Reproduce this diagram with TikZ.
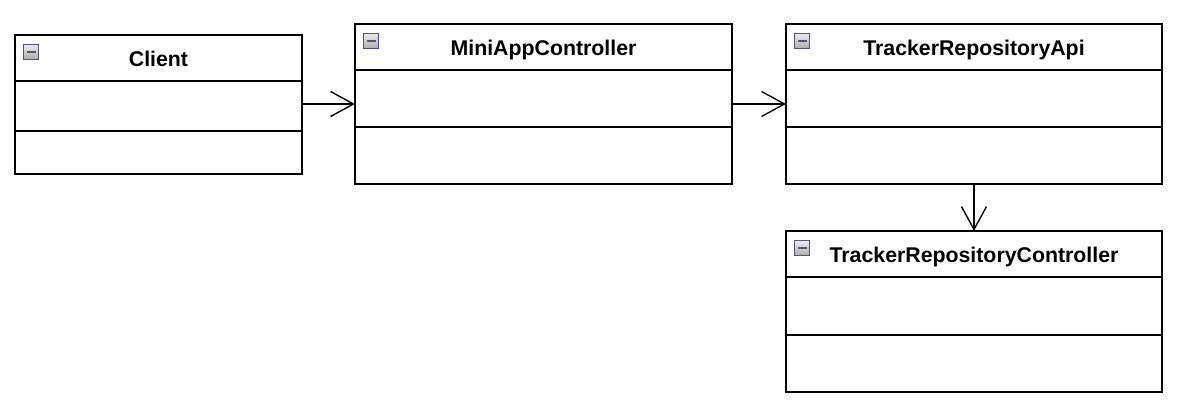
\documentclass[tikz,border=0pt]{standalone}
\usepackage{fontspec}
\setmainfont{Liberation Sans}
\usepackage{xcolor}
\usetikzlibrary{positioning,arrows.meta}

\begin{document}
\begin{tikzpicture}[
    x=1pt, y=-1pt,
    node distance=0pt,
    hdr/.style={draw, line width=1.5pt, inner sep=0pt, outer sep=0pt, minimum height=46pt, text height=20pt, text depth=2.6pt, align=center, font=\fontsize{21.3}{25}\selectfont\bfseries},
    part/.style={draw, line width=1.5pt, inner sep=0pt, outer sep=0pt},
    toggle/.style={draw=gray!80!blue!80!black, line width=1pt, top color=gray!15, bottom color=gray!65, minimum size=15pt, inner sep=0pt,
        path picture={\draw[line width=2.4pt] ([xshift=3pt]path picture bounding box.west) -- ([xshift=-3pt]path picture bounding box.east);}},
    arrow/.style={-{Straight Barb[length=23pt, width=25pt]}, line width=1.4pt}
]
\useasboundingbox (0,0) rectangle (1180,411);

% classes
\node[hdr, minimum width=287pt, anchor=north west] (client-hdr) at (15,35) {Client};
\node[part, minimum width=287pt, minimum height=50pt, below=of client-hdr] (client-attr) {};
\node[part, minimum width=287pt, minimum height=43pt, below=of client-attr] (client-ops) {};

\node[hdr, minimum width=377pt, anchor=north west] (mini-hdr) at (355,24) {MiniAppController};
\node[part, minimum width=377pt, minimum height=57pt, below=of mini-hdr] (mini-attr) {};
\node[part, minimum width=377pt, minimum height=57pt, below=of mini-attr] (mini-ops) {};

\node[hdr, minimum width=376pt, anchor=north west] (api-hdr) at (786,24) {TrackerRepositoryApi};
\node[part, minimum width=376pt, minimum height=57pt, below=of api-hdr] (api-attr) {};
\node[part, minimum width=376pt, minimum height=57pt, below=of api-attr] (api-ops) {};

\node[hdr, minimum width=376pt, anchor=north west] (ctrl-hdr) at (786,231) {TrackerRepositoryController};
\node[part, minimum width=376pt, minimum height=58pt, below=of ctrl-hdr] (ctrl-attr) {};
\node[part, minimum width=376pt, minimum height=57pt, below=of ctrl-attr] (ctrl-ops) {};

% collapse boxes
\foreach \c in {client,mini,api,ctrl}
    \node[toggle, below right=9pt and 8pt of \c-hdr.north west] (\c-toggle) {};

% arrows
\draw[arrow] ([yshift=2pt]client-attr.east) -- ([yshift=2pt]client-attr.east -| mini-attr.west);
\draw[arrow] (mini-attr.south east) ++(0,-23) coordinate (mini-out) -- (mini-out -| api-attr.west);
\draw[arrow] (api-ops.south) -- (ctrl-hdr.north);
\end{tikzpicture}
\end{document}
